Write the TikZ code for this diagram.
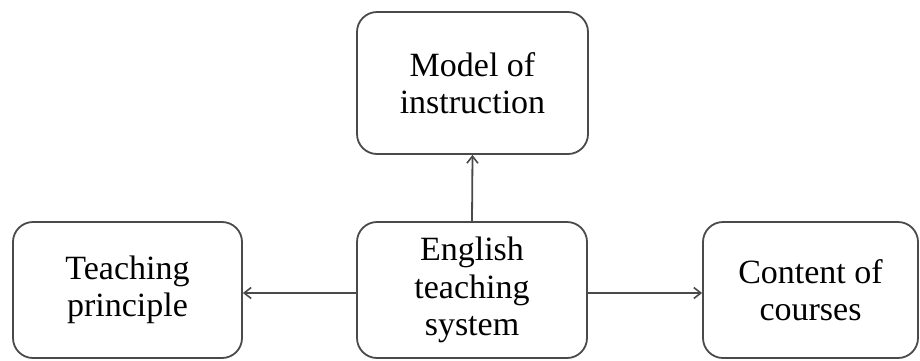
\documentclass[tikz,border=0pt]{standalone}
\usepackage{fontspec}
\setmainfont{Liberation Serif}
\usetikzlibrary{arrows.meta}
\definecolor{edge}{HTML}{4A4A4A}
\tikzset{
  box/.style={draw=edge, line width=1.8pt, rounded corners=20pt, align=center,
    font=\fontsize{34}{37.5}\selectfont, text=black, inner sep=0pt},
  link/.style={draw=edge, line width=1.8pt, -{Straight Barb[length=7pt,width=11pt,line width=1.6pt]}}
}
\begin{document}
\begin{tikzpicture}[x=1pt,y=-1pt]
\path[use as bounding box, fill=white] (0,0) rectangle (920,360);
\node[box, minimum width=231pt, minimum height=142pt] (top) at (472.5,83) {Model of\\instruction};
\node[box, minimum width=230pt, minimum height=136pt] (ctr) at (472,290) {English\\teaching\\system};
\node[box, minimum width=229pt, minimum height=136pt] (lft) at (127.5,290) {Teaching\\principle};
\node[box, minimum width=215pt, minimum height=136pt] (rgt) at (810.5,290) {Content of\\courses};
\draw[link] (ctr.north) -- (top.south);
\draw[link] ([yshift=-3pt]ctr.west) -- ([yshift=-3pt]lft.east);
\draw[link] ([yshift=-3pt]ctr.east) -- ([yshift=-3pt]rgt.west);
\end{tikzpicture}
\end{document}
